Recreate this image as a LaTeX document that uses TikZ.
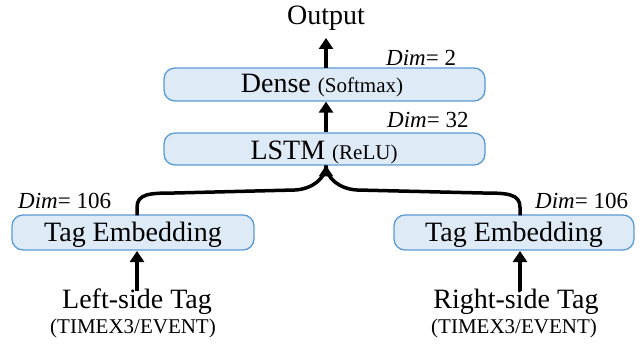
\documentclass[tikz,border=0pt]{standalone}
\usepackage{fontspec}
\setmainfont{Liberation Serif}
\usetikzlibrary{arrows.meta,calc}
\definecolor{boxfill}{RGB}{222,235,247}
\definecolor{boxline}{RGB}{91,155,213}
\tikzset{
  layer/.style={draw=boxline, fill=boxfill, line width=1.3pt, rounded corners=11pt, inner sep=0pt},
  conn/.style={line width=3.5pt, -{Triangle[length=11pt,width=14pt]}},
  big/.style={font=\fontsize{28}{32}\selectfont},
  dimlab/.style={font=\fontsize{23}{27}\selectfont, inner sep=0pt},
  sub/.style={font=\fontsize{21}{24}\selectfont, inner sep=0pt},
}
\begin{document}
\begin{tikzpicture}[x=1pt,y=1pt]
\useasboundingbox (0,0) rectangle (644,-344);
% boxes
\node[layer, minimum width=321pt, minimum height=33pt] (dense) at (324.5,-84.5) {};
\node[big, inner sep=0pt] (densetxt) at (322,-86) {Dense {\fontsize{21}{24}\selectfont(Softmax)}};
\node[layer, minimum width=321pt, minimum height=32pt] (lstm) at (324.5,-149) {};
\node[big, inner sep=0pt] (lstmtxt) at (324,-152) {LSTM {\fontsize{21}{24}\selectfont(ReLU)}};
\node[layer, minimum width=242pt, minimum height=35pt] (lt) at (133,-232.5) {};
\node[big, inner sep=0pt] (lttxt) at (133,-235) {Tag Embedding};
\node[layer, minimum width=240pt, minimum height=35pt] (rt) at (514,-232.5) {};
\node[big, inner sep=0pt] (rttxt) at (514,-235) {Tag Embedding};
% texts
\node[big, inner sep=0pt] (out) at (326,-18) {Output};
\node[big, inner sep=0pt] (lin) at (137,-302) {Left-side Tag};
\node[sub] (linsub) at (133,-328) {(TIMEX3/EVENT)};
\node[big, inner sep=0pt] (rin) at (516,-302) {Right-side Tag};
\node[sub] (rinsub) at (514,-328) {(TIMEX3/EVENT)};
\node[dimlab, anchor=west] (d2) at (386,-58) {\textit{Dim}= 2};
\node[dimlab, anchor=west] (d32) at (387,-120) {\textit{Dim}= 32};
\node[dimlab, anchor=west] (d106l) at (18,-201) {\textit{Dim}= 106};
\node[dimlab, anchor=west] (d106r) at (535,-201) {\textit{Dim}= 106};
% connectors
\coordinate (ltop) at (137,-215.5);
\coordinate (rtop) at (520,-215.5);
\coordinate (lstmin) at (326,-165.5);
\coordinate (dout) at (326,-68);
\coordinate (outb) at (326,-38);
\draw[conn] (dout) -- (outb);
\draw[conn] (lstm.north -| dout) -- (dense.south -| dout);
\draw[line width=3.5pt] (ltop) -- ++(0,8) .. controls +(0,14) and +(-25,0) .. (175,-193)
   -- (295,-190) .. controls +(18,1) and +(0,-12) .. (lstmin);
\draw[line width=3.5pt] (rtop) -- ++(0,8) .. controls +(0,14) and +(25,0) .. (482,-193)
   -- (357,-190) .. controls +(-18,1) and +(0,-12) .. (lstmin);
\draw[conn] (lstmin) ++(0,-10) -- (lstmin);
\draw[conn] (lin.north -| ltop) ++(0,-2) -- (137,-251);
\draw[conn] (rin.north -| rtop) ++(0,-2) -- (520,-251);
\end{tikzpicture}
\end{document}
